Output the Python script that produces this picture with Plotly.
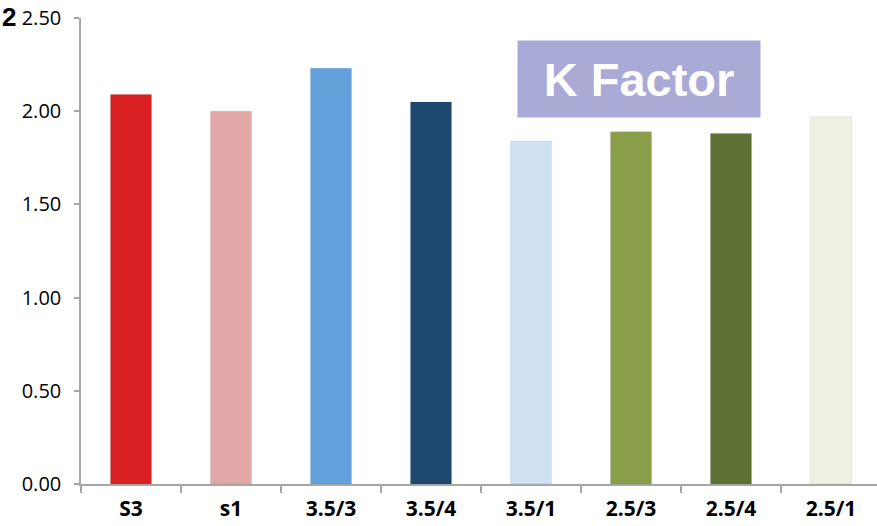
import plotly.graph_objects as go

categories = ["S3", "s1", "3.5/3", "3.5/4", "3.5/1", "2.5/3", "2.5/4", "2.5/1"]
k_factor = [2.09, 2.00, 2.23, 2.05, 1.84, 1.89, 1.88, 1.97]
bar_colors = ["#d92023", "#e2a8a7", "#64a0dc", "#1f4870", "#cfe0f2", "#8a9e4a", "#5e7135", "#edf0e3"]
y_ticks = [0, 0.5, 1.0, 1.5, 2.0, 2.5]

W, H = 877, 526
L, R, T, B = 81, 0, 18, 42
pw, ph = W - L - R, H - T - B

fig = go.Figure(go.Bar(
    x=categories, y=k_factor,
    marker=dict(color=bar_colors, line=dict(color="rgba(0,0,0,0.06)", width=1)),
    width=0.41,
))

fig.update_layout(
    width=W, height=H,
    margin=dict(l=L, r=R, t=T, b=B, pad=0),
    plot_bgcolor="white", paper_bgcolor="white",
    showlegend=False,
    font=dict(family="Open Sans, Liberation Sans, sans-serif", color="#000"),
)
fig.update_xaxes(
    range=[-0.5, 7.46], automargin=False,
    showline=True, linecolor="#a6a6a6", linewidth=1.5,
    ticks="outside", tickson="boundaries", ticklen=7, tickcolor="#a6a6a6", tickwidth=1.5,
    tickfont=dict(family="Open Sans, Liberation Sans, sans-serif", size=21, color="#000", weight="bold"),
    ticklabelstandoff=5,
    showgrid=False, zeroline=False,
)
fig.update_yaxes(
    range=[0, 2.5], tickvals=y_ticks, tickformat=".2f", automargin=False,
    showline=True, linecolor="#a6a6a6", linewidth=1.5,
    ticks="outside", ticklen=5, tickcolor="#a6a6a6", tickwidth=1.5,
    tickfont=dict(family="Open Sans, sans-serif", size=20, color="#000"),
    ticklabelstandoff=9,
    showgrid=False, zeroline=False,
)

fig.add_annotation(
    xref="paper", yref="paper",
    x=(639 - L) / pw, y=(H - B - 79) / ph,
    xanchor="center", yanchor="middle",
    text="<b>K Factor</b>", showarrow=False,
    width=240, height=74, bgcolor="#aaaad6",
    font=dict(family="Liberation Sans, Arial, sans-serif", size=47, color="white"),
)
fig.add_annotation(
    xref="paper", yref="paper",
    x=(0 - L) / pw, y=1.0 + 18 / ph,
    xanchor="left", yanchor="top",
    text="<b>2</b>", showarrow=False,
    font=dict(family="Liberation Sans, Arial, sans-serif", size=26, color="#000"),
)

fig.write_html("out.html")
